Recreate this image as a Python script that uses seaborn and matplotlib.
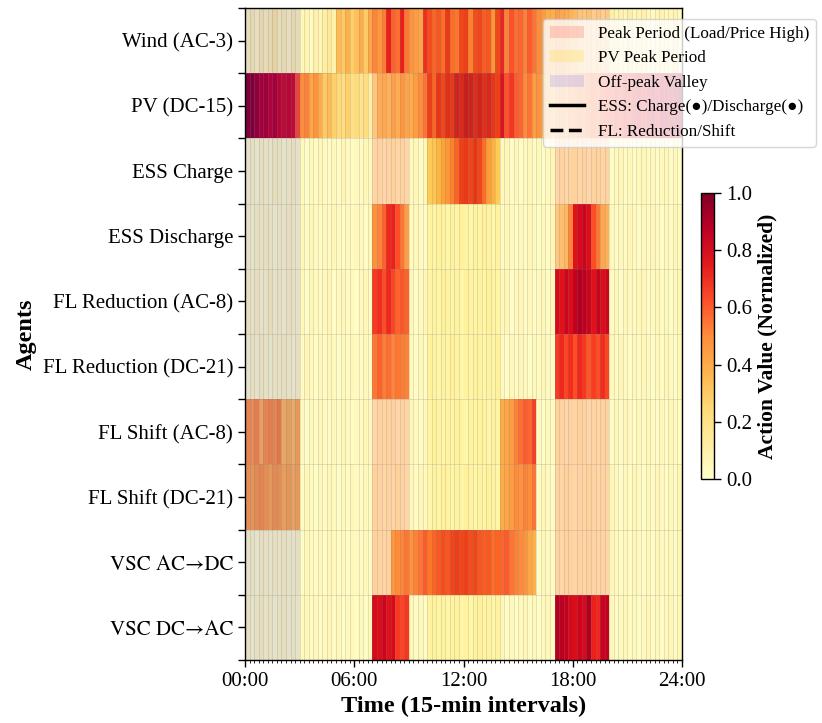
import matplotlib
matplotlib.use("Agg")
import numpy as np
import pandas as pd
import matplotlib.pyplot as plt
import seaborn as sns
from matplotlib.patches import Patch
from matplotlib.lines import Line2D

plt.rcParams['font.family'] = ['Liberation Serif', 'DejaVu Serif', 'DejaVu Sans']

agents = ["Wind (AC-3)", "PV (DC-15)", "ESS Charge", "ESS Discharge",
          "FL Reduction (AC-8)", "FL Reduction (DC-21)", "FL Shift (AC-8)",
          "FL Shift (DC-21)", "VSC AC→DC", "VSC DC→AC"]

# one value per 15-min interval (96 per agent)
wind = [0.06, 0.10, 0.05, 0.12, 0.08, 0.10, 0.15, 0.07, 0.10, 0.06, 0.11, 0.08, 0.05, 0.08, 0.03, 0.10,
        0.06, 0.12, 0.15, 0.10, 0.35, 0.30, 0.38, 0.28, 0.33, 0.40, 0.30, 0.42, 0.45, 0.38, 0.48, 0.72,
        0.55, 0.52, 0.73, 0.50, 0.48, 0.45, 0.42, 0.70, 0.68, 0.62, 0.66, 0.60, 0.74, 0.60, 0.58, 0.70,
        0.72, 0.55, 0.68, 0.70, 0.64, 0.66, 0.50, 0.70, 0.72, 0.52, 0.62, 0.56, 0.58, 0.52, 0.60, 0.55,
        0.50, 0.45, 0.40, 0.38, 0.35, 0.32, 0.30, 0.28, 0.25, 0.18, 0.15, 0.20, 0.12, 0.16, 0.10, 0.14,
        0.12, 0.08, 0.10, 0.06, 0.12, 0.05, 0.08, 0.10, 0.06, 0.04, 0.07, 0.09, 0.05, 0.06, 0.08, 0.04]
pv = [0.97, 0.98, 0.93, 0.88, 0.90, 0.86, 0.88, 0.84, 0.82, 0.83, 0.82, 0.62, 0.50, 0.52, 0.42, 0.48,
      0.40, 0.30, 0.35, 0.28, 0.25, 0.22, 0.28, 0.20, 0.24, 0.18, 0.22, 0.12, 0.15, 0.30, 0.32, 0.28,
      0.35, 0.30, 0.38, 0.33, 0.40, 0.45, 0.50, 0.55, 0.72, 0.62, 0.75, 0.70, 0.78, 0.74, 0.85, 0.82,
      0.88, 0.85, 0.80, 0.84, 0.78, 0.82, 0.75, 0.72, 0.78, 0.62, 0.68, 0.60, 0.58, 0.50, 0.55, 0.45,
      0.48, 0.40, 0.38, 0.35, 0.32, 0.35, 0.30, 0.38, 0.40, 0.45, 0.42, 0.50, 0.55, 0.52, 0.60, 0.62,
      0.65, 0.70, 0.68, 0.74, 0.72, 0.78, 0.80, 0.76, 0.82, 0.85, 0.80, 0.86, 0.88, 0.84, 0.90, 0.92]
ess_charge = [0.03, 0.05, 0.02, 0.06, 0.04, 0.03, 0.07, 0.05, 0.02, 0.04, 0.06, 0.03, 0.04, 0.02, 0.05, 0.03,
              0.06, 0.04, 0.02, 0.05, 0.03, 0.07, 0.04, 0.02, 0.05, 0.03, 0.06, 0.04, 0.03, 0.05, 0.02, 0.04,
              0.06, 0.03, 0.05, 0.02, 0.04, 0.06, 0.03, 0.05, 0.30, 0.32, 0.38, 0.45, 0.50, 0.55, 0.62, 0.72,
              0.74, 0.70, 0.75, 0.70, 0.60, 0.48, 0.40, 0.30, 0.04, 0.06, 0.03, 0.05, 0.02, 0.04, 0.06, 0.03,
              0.05, 0.02, 0.04, 0.06, 0.03, 0.05, 0.02, 0.04, 0.06, 0.03, 0.05, 0.02, 0.04, 0.06, 0.03, 0.05,
              0.02, 0.04, 0.06, 0.03, 0.05, 0.02, 0.04, 0.06, 0.03, 0.05, 0.02, 0.04, 0.06, 0.03, 0.05, 0.02]
ess_discharge = [0.04, 0.02, 0.05, 0.03, 0.06, 0.04, 0.02, 0.05, 0.03, 0.06, 0.04, 0.02, 0.05, 0.03, 0.06, 0.04,
                 0.02, 0.05, 0.03, 0.06, 0.04, 0.02, 0.05, 0.03, 0.06, 0.04, 0.02, 0.05, 0.40, 0.45, 0.55, 0.70,
                 0.72, 0.60, 0.50, 0.35, 0.03, 0.06, 0.04, 0.02, 0.05, 0.03, 0.06, 0.04, 0.02, 0.05, 0.03, 0.06,
                 0.04, 0.02, 0.05, 0.03, 0.06, 0.04, 0.02, 0.05, 0.03, 0.06, 0.04, 0.02, 0.05, 0.03, 0.06, 0.04,
                 0.02, 0.05, 0.03, 0.06, 0.15, 0.20, 0.25, 0.45, 0.78, 0.82, 0.85, 0.80, 0.60, 0.50, 0.32, 0.28,
                 0.04, 0.02, 0.05, 0.03, 0.06, 0.04, 0.02, 0.05, 0.03, 0.06, 0.04, 0.02, 0.05, 0.03, 0.06, 0.04]
fl_red_ac = [0.05, 0.03, 0.06, 0.02, 0.04, 0.07, 0.03, 0.05, 0.02, 0.06, 0.04, 0.03, 0.05, 0.02, 0.06, 0.04,
             0.03, 0.05, 0.07, 0.02, 0.04, 0.06, 0.03, 0.05, 0.02, 0.04, 0.06, 0.03, 0.65, 0.68, 0.60, 0.70,
             0.62, 0.55, 0.58, 0.55, 0.05, 0.02, 0.04, 0.06, 0.03, 0.05, 0.02, 0.07, 0.04, 0.03, 0.05, 0.02,
             0.06, 0.04, 0.03, 0.05, 0.02, 0.06, 0.04, 0.03, 0.05, 0.07, 0.02, 0.04, 0.06, 0.03, 0.05, 0.02,
             0.04, 0.06, 0.03, 0.05, 0.82, 0.78, 0.85, 0.80, 0.88, 0.92, 0.90, 0.85, 0.78, 0.86, 0.80, 0.84,
             0.03, 0.05, 0.02, 0.06, 0.04, 0.03, 0.05, 0.07, 0.02, 0.04, 0.06, 0.03, 0.05, 0.02, 0.04, 0.06]
fl_red_dc = [0.02, 0.05, 0.03, 0.06, 0.04, 0.02, 0.05, 0.03, 0.06, 0.04, 0.02, 0.05, 0.03, 0.07, 0.04, 0.02,
             0.05, 0.03, 0.06, 0.04, 0.02, 0.05, 0.03, 0.06, 0.04, 0.02, 0.05, 0.03, 0.50, 0.55, 0.48, 0.52,
             0.45, 0.50, 0.48, 0.46, 0.04, 0.02, 0.05, 0.03, 0.06, 0.04, 0.02, 0.05, 0.03, 0.06, 0.04, 0.02,
             0.05, 0.03, 0.06, 0.04, 0.02, 0.05, 0.03, 0.06, 0.04, 0.02, 0.05, 0.03, 0.06, 0.04, 0.02, 0.05,
             0.03, 0.06, 0.04, 0.02, 0.65, 0.70, 0.62, 0.68, 0.60, 0.70, 0.66, 0.58, 0.64, 0.60, 0.68, 0.62,
             0.05, 0.03, 0.06, 0.04, 0.02, 0.05, 0.03, 0.06, 0.04, 0.02, 0.05, 0.03, 0.06, 0.04, 0.02, 0.05]
fl_shift_ac = [0.48, 0.45, 0.50, 0.36, 0.48, 0.50, 0.48, 0.52, 0.34, 0.38, 0.33, 0.40, 0.04, 0.02, 0.05, 0.03,
               0.06, 0.04, 0.02, 0.05, 0.03, 0.06, 0.04, 0.02, 0.05, 0.03, 0.06, 0.04, 0.02, 0.05, 0.03, 0.06,
               0.04, 0.02, 0.05, 0.03, 0.06, 0.04, 0.02, 0.05, 0.03, 0.06, 0.04, 0.02, 0.05, 0.03, 0.06, 0.04,
               0.02, 0.05, 0.03, 0.06, 0.04, 0.02, 0.05, 0.03, 0.40, 0.42, 0.45, 0.52, 0.56, 0.60, 0.58, 0.66,
               0.04, 0.02, 0.05, 0.03, 0.06, 0.04, 0.02, 0.05, 0.03, 0.06, 0.04, 0.02, 0.05, 0.03, 0.06, 0.04,
               0.02, 0.05, 0.03, 0.06, 0.04, 0.02, 0.05, 0.03, 0.06, 0.04, 0.02, 0.05, 0.03, 0.06, 0.04, 0.02]
fl_shift_dc = [0.44, 0.42, 0.46, 0.48, 0.44, 0.40, 0.46, 0.44, 0.38, 0.42, 0.36, 0.40, 0.03, 0.06, 0.04, 0.02,
               0.05, 0.03, 0.06, 0.04, 0.02, 0.05, 0.03, 0.06, 0.04, 0.02, 0.05, 0.03, 0.06, 0.04, 0.02, 0.05,
               0.03, 0.06, 0.04, 0.02, 0.05, 0.03, 0.06, 0.04, 0.02, 0.05, 0.03, 0.06, 0.04, 0.02, 0.05, 0.03,
               0.06, 0.04, 0.02, 0.05, 0.03, 0.06, 0.04, 0.02, 0.40, 0.42, 0.45, 0.50, 0.48, 0.52, 0.50, 0.55,
               0.03, 0.06, 0.04, 0.02, 0.05, 0.03, 0.06, 0.04, 0.02, 0.05, 0.03, 0.06, 0.04, 0.02, 0.05, 0.03,
               0.06, 0.04, 0.02, 0.05, 0.03, 0.06, 0.04, 0.02, 0.05, 0.03, 0.06, 0.04, 0.02, 0.05, 0.03, 0.06]
vsc_ac_dc = [0.03, 0.05, 0.02, 0.06, 0.04, 0.03, 0.05, 0.02, 0.06, 0.04, 0.03, 0.05, 0.02, 0.06, 0.04, 0.03,
             0.05, 0.02, 0.06, 0.04, 0.03, 0.05, 0.02, 0.06, 0.04, 0.03, 0.05, 0.02, 0.06, 0.04, 0.03, 0.05,
             0.38, 0.42, 0.45, 0.50, 0.48, 0.52, 0.55, 0.60, 0.58, 0.62, 0.65, 0.68, 0.66, 0.70, 0.72, 0.70,
             0.72, 0.68, 0.70, 0.66, 0.64, 0.65, 0.60, 0.62, 0.58, 0.60, 0.55, 0.52, 0.50, 0.48, 0.42, 0.38,
             0.02, 0.06, 0.04, 0.03, 0.05, 0.02, 0.06, 0.04, 0.03, 0.05, 0.02, 0.06, 0.04, 0.03, 0.05, 0.02,
             0.06, 0.04, 0.03, 0.05, 0.02, 0.06, 0.04, 0.03, 0.05, 0.02, 0.06, 0.04, 0.03, 0.05, 0.02, 0.06]
vsc_dc_ac = [0.05, 0.02, 0.04, 0.06, 0.03, 0.05, 0.02, 0.04, 0.06, 0.03, 0.05, 0.02, 0.04, 0.06, 0.03, 0.05,
             0.02, 0.04, 0.06, 0.03, 0.05, 0.02, 0.04, 0.06, 0.03, 0.05, 0.02, 0.04, 0.82, 0.80, 0.85, 0.78,
             0.82, 0.65, 0.62, 0.66, 0.06, 0.03, 0.05, 0.02, 0.04, 0.06, 0.03, 0.05, 0.02, 0.04, 0.06, 0.03,
             0.05, 0.02, 0.04, 0.06, 0.03, 0.05, 0.02, 0.04, 0.06, 0.03, 0.05, 0.02, 0.04, 0.06, 0.03, 0.05,
             0.02, 0.04, 0.06, 0.03, 0.92, 0.90, 0.88, 0.82, 0.80, 0.84, 0.82, 0.93, 0.72, 0.70, 0.86, 0.88,
             0.05, 0.02, 0.04, 0.06, 0.03, 0.05, 0.02, 0.04, 0.06, 0.03, 0.05, 0.02, 0.04, 0.06, 0.03, 0.05]

time_ticks = [0, 24, 48, 72, 96]
time_labels = ["00:00", "06:00", "12:00", "18:00", "24:00"]

# shaded periods in hours
peak_hours = [(7, 9), (17, 20)]
pv_peak_hours = [(10, 14)]
valley_hours = [(0, 3)]

data = pd.DataFrame([wind, pv, ess_charge, ess_discharge, fl_red_ac, fl_red_dc,
                     fl_shift_ac, fl_shift_dc, vsc_ac_dc, vsc_dc_ac], index=agents)

fig = plt.figure(figsize=(8.22, 7.23), dpi=100)
ax = fig.add_axes([245/822, 1 - 660/723, 437/822, 652/723])
cax = fig.add_axes([701/822, 1 - 479/723, 13/822, 286/723])

sns.heatmap(data, cmap="YlOrRd", vmin=0, vmax=1, ax=ax, cbar_ax=cax,
            xticklabels=False, yticklabels=False)

#shade the periods
for a, b in peak_hours:
    ax.axvspan(a*4, b*4, color='red', alpha=0.15, lw=0)
for a, b in pv_peak_hours:
    ax.axvspan(a*4, b*4, color='gold', alpha=0.15, lw=0)
for a, b in valley_hours:
    ax.axvspan(a*4, b*4, color='blue', alpha=0.1, lw=0)

#ticks and grid
ax.set_xticks(time_ticks)
ax.set_xticklabels(time_labels, fontsize=15)
ax.set_xticks(np.arange(0, 97), minor=True)
ax.set_yticks(np.arange(len(agents)) + 0.5)
ax.set_yticklabels(agents, fontsize=15, rotation=0)
ax.set_yticks(np.arange(0, len(agents) + 1), minor=True)
# Times-like font with a wide arrow for the converter rows
for lbl in ax.get_yticklabels():
    if '→' in lbl.get_text():
        lbl.set_fontfamily(['STIXGeneral', 'Liberation Serif'])
ax.tick_params(axis='x', which='major', length=5, width=1)
ax.tick_params(axis='x', which='minor', length=2.5, width=0.6)
ax.tick_params(axis='y', which='both', length=5, width=1)
ax.grid(which='minor', color='gray', alpha=0.3, linewidth=0.5)

for s in ax.spines.values():
    s.set_visible(True)
    s.set_color('black')
    s.set_linewidth(1.0)

ax.set_xlabel('Time (15-min intervals)', fontsize=17.5, fontweight='bold')
ax.set_ylabel('Agents', fontsize=17.5, fontweight='bold')

#colorbar
cb = ax.collections[0].colorbar
cb.outline.set_visible(True)
cb.outline.set_linewidth(1.0)
cb.outline.set_edgecolor('black')
cb.set_ticks([0.0, 0.2, 0.4, 0.6, 0.8, 1.0])
cb.ax.tick_params(labelsize=15, length=5, width=1)
cb.set_label('Action Value (Normalized)', fontsize=15.5, fontweight='bold')

#legend
handles = [Patch(facecolor='red', alpha=0.15, label='Peak Period (Load/Price High)'),
           Patch(facecolor='gold', alpha=0.2, label='PV Peak Period'),
           Patch(facecolor='blue', alpha=0.1, label='Off-peak Valley'),
           Line2D([0], [0], color='black', lw=2.5, label='ESS: Charge(●)/Discharge(●)'),
           Line2D([0], [0], color='black', lw=2.5, ls='--', label='FL: Reduction/Shift')]
fig.legend(handles=handles, loc='upper left', bbox_to_anchor=(543/822, 1 - 19/723),
           borderaxespad=0, fontsize=12.3, framealpha=0.8)

fig.savefig('out.png', dpi=100)
